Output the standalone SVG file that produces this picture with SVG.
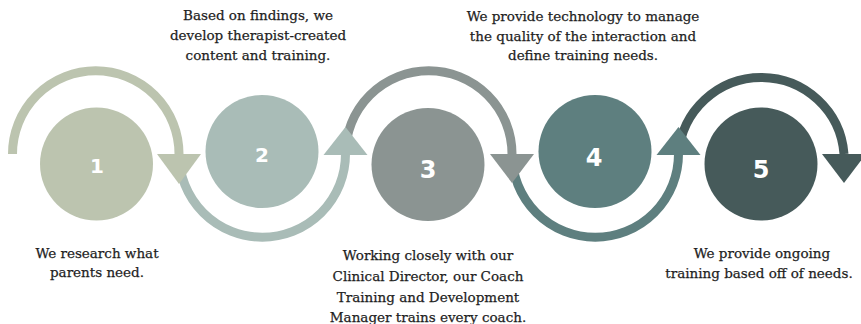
<svg xmlns="http://www.w3.org/2000/svg" width="861" height="324" viewBox="0 0 861 324">
<style>
.arc{fill:none;stroke-width:9}
.num{font-family:"DejaVu Sans",sans-serif;font-weight:bold;fill:#ffffff;text-anchor:middle}
.lbl{font-family:"DejaVu Serif","Liberation Serif",serif;font-size:13.5px;fill:#1e1e1e;stroke:#1e1e1e;stroke-width:0.25;text-anchor:middle}
</style>
<rect width="861" height="324" fill="#ffffff"/>
<g id="connectors">
<path class="arc" stroke="#bcc4af" d="M12.5 154 A83 83 0 0 1 179 154"/>
<path class="arc" stroke="#a9bcb7" d="M179 154 A83.25 83.25 0 0 0 345.5 154"/>
<path class="arc" stroke="#8b9492" d="M345.5 154 A83.25 83.25 0 0 1 512 154"/>
<path class="arc" stroke="#5e7f7f" d="M512 154 A83.25 83.25 0 0 0 678.5 154"/>
<path class="arc" stroke="#465a5a" d="M678.5 154 A83 83 0 0 1 844 154"/>
<polygon fill="#bcc4af" points="157,154 201,154 179,184"/>
<polygon fill="#a9bcb7" points="323.5,155 367.5,155 345.5,127"/>
<polygon fill="#8b9492" points="490,154 534,154 512,183"/>
<polygon fill="#5e7f7f" points="656.5,155 700.5,155 678.5,127"/>
<polygon fill="#465a5a" points="822,154 866,154 844,183"/>
</g>
<g id="node1">
<circle cx="96.5" cy="164" r="56.5" fill="#bcc4af"/>
<text class="num" x="97" y="173" font-size="20">1</text>
<text class="lbl" x="97" y="258">We research what</text>
<text class="lbl" x="97" y="277">parents need.</text>
</g>
<g id="node2">
<circle cx="262" cy="151.5" r="56.5" fill="#a9bcb7"/>
<text class="num" x="262" y="162" font-size="20">2</text>
<text class="lbl" x="258" y="20">Based on findings, we</text>
<text class="lbl" x="258" y="40">develop therapist-created</text>
<text class="lbl" x="258" y="60">content and training.</text>
</g>
<g id="node3">
<circle cx="428" cy="164.5" r="56.5" fill="#8b9492"/>
<text class="num" x="428" y="178" font-size="24">3</text>
<text class="lbl" x="428" y="260">Working closely with our</text>
<text class="lbl" x="428" y="281">Clinical Director, our Coach</text>
<text class="lbl" x="428" y="302">Training and Development</text>
<text class="lbl" x="428" y="322">Manager trains every coach.</text>
</g>
<g id="node4">
<circle cx="595" cy="151.5" r="56.5" fill="#5e7f7f"/>
<text class="num" x="594" y="166" font-size="24">4</text>
<text class="lbl" x="583" y="21">We provide technology to manage</text>
<text class="lbl" x="583" y="41">the quality of the interaction and</text>
<text class="lbl" x="583" y="60">define training needs.</text>
</g>
<g id="node5">
<circle cx="761" cy="164" r="56.5" fill="#465a5a"/>
<text class="num" x="761" y="178" font-size="24">5</text>
<text class="lbl" x="762" y="258">We provide ongoing</text>
<text class="lbl" x="759" y="278">training based off of needs.</text>
</g>
</svg>
